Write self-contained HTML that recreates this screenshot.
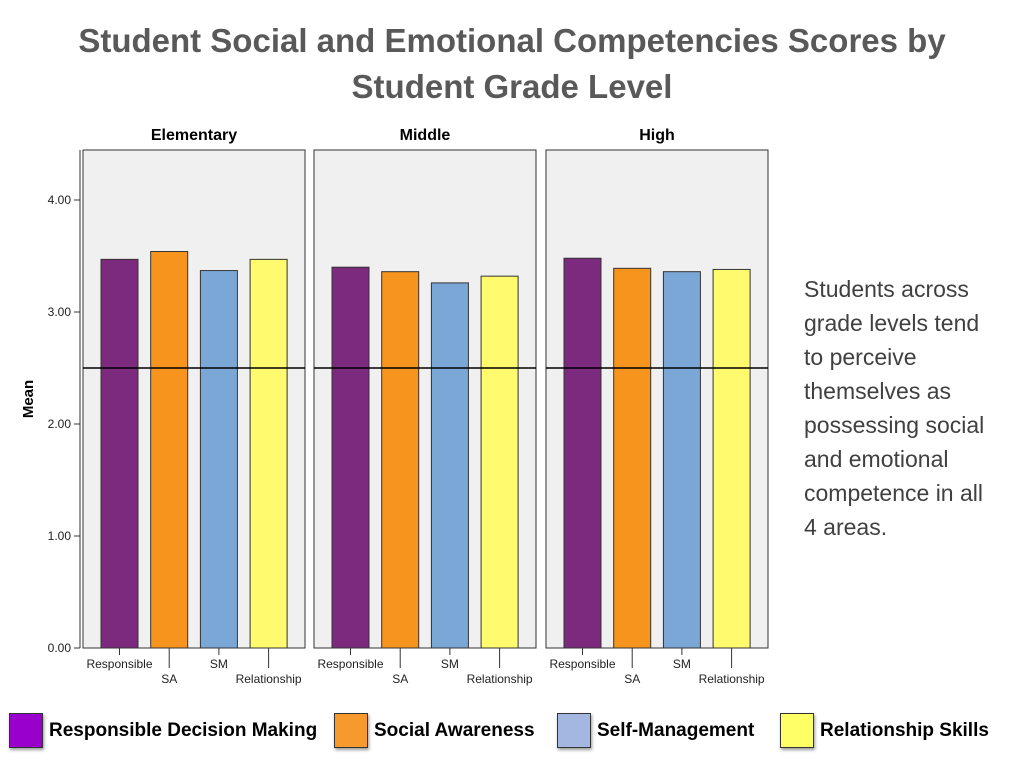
<!DOCTYPE html>
<html><head><meta charset="utf-8"><style>
body{margin:0;width:1024px;height:768px;background:#fff;overflow:hidden;font-family:"Liberation Sans",sans-serif;position:relative}
.title{position:absolute;left:0;width:1024px;top:18px;text-align:center;font-size:33px;font-weight:bold;color:#595959;line-height:46px;font-family:"Liberation Sans",sans-serif}
.note{position:absolute;left:804px;top:272px;font-size:23px;line-height:34px;color:#404040;font-family:"Liberation Sans",sans-serif}
.leg{position:absolute;top:713px;display:flex;align-items:center;font-weight:bold;font-size:19px;font-family:"Liberation Sans",sans-serif}
.leg span.sw{width:32px;height:33px;border:1px solid #333;margin-right:6px;box-shadow:1px 2px 3px #999}
</style></head><body>
<div class="title">Student Social and Emotional Competencies Scores by<br>Student Grade Level</div>
<svg id="chart" width="1024" height="768" style="position:absolute;left:0;top:0"></svg>
<div class="note">Students across<br>grade levels tend<br>to perceive<br>themselves as<br>possessing social<br>and emotional<br>competence in all<br>4 areas.</div>
<div class="leg" style="left:9px"><span class="sw" style="background:#9900CC"></span>Responsible Decision Making</div>
<div class="leg" style="left:334px"><span class="sw" style="background:#F79A2E"></span>Social Awareness</div>
<div class="leg" style="left:557px"><span class="sw" style="background:#A3B7E0"></span>Self-Management</div>
<div class="leg" style="left:780px"><span class="sw" style="background:#FFFF66"></span>Relationship Skills</div>
<script>
const panels=["Elementary","Middle","High"];
const categories=["Responsible","SA","SM","Relationship"];
const responsible=[3.47,3.40,3.48];
const socialAwareness=[3.54,3.36,3.39];
const selfManagement=[3.37,3.26,3.36];
const relationship=[3.47,3.32,3.38];
const yTicks=[0,1,2,3,4];
const refLine=2.5;
const series=[responsible,socialAwareness,selfManagement,relationship];
const colors=["#7B2A7E","#F7941D","#7BA7D7","#FFFA6E"];
const svg=document.getElementById('chart');
const NS="http://www.w3.org/2000/svg";
function y(v){return 648-v*112;}
function mk(t,a,p){const e=document.createElementNS(NS,t);for(const k in a)e.setAttribute(k,a[k]);(p||svg).appendChild(e);return e;}
const pLeft=[83,314,546],pW=222;
let ax=mk('line',{x1:80,y1:150,x2:80,y2:648,stroke:'#333'});


yTicks.forEach(v=>{
  mk('line',{x1:74,x2:80,y1:y(v),y2:y(v),stroke:'#333'});
  let t=mk('text',{x:71,y:y(v)+4,'text-anchor':'end','font-size':12,fill:'#222'});
  t.textContent=v.toFixed(2);
  
  
});
let yt=mk('text',{x:33,y:399,'text-anchor':'middle','font-size':15,'font-weight':'bold',transform:'rotate(-90 33 399)'});
yt.textContent='Mean';


panels.forEach((p,i)=>{
  const L=pLeft[i];
  let r=mk('rect',{x:L,y:150,width:pW,height:498,fill:'#F0F0F0',stroke:'#333'});
  
  
  let h=mk('text',{x:L+pW/2,y:140,'text-anchor':'middle','font-size':16,'font-weight':'bold'});
  h.textContent=p;
  
  
  series.forEach((s,j)=>{
    const bx=L+18+j*49.7;
    let b=mk('rect',{x:bx,y:y(s[i]),width:37,height:648-y(s[i]),fill:colors[j],stroke:'#333','stroke-width':1});
    
    
    const cx=bx+18.5,lo=j%2==1;
    mk('line',{x1:cx,x2:cx,y1:648,y2:lo?668:655,stroke:'#333'});
    let t=mk('text',{x:cx,y:lo?683:668,'text-anchor':'middle','font-size':12,fill:'#222'});
    t.textContent=categories[j];
    
    
  });
  let rl=mk('line',{x1:L,x2:L+pW,y1:y(refLine),y2:y(refLine),stroke:'#000','stroke-width':1.5});
  
  
});
</script>
</body></html>
